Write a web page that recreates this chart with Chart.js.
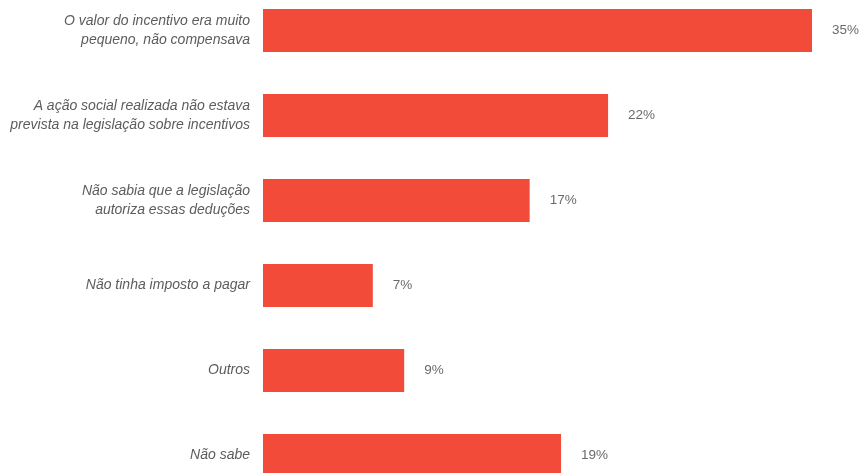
<!DOCTYPE html>
<html>
<head>
<meta charset="utf-8">
<script src="https://cdn.jsdelivr.net/npm/chart.js@4/dist/chart.umd.min.js"></script>
<style>
  html, body { margin: 0; padding: 0; background: #ffffff; overflow: hidden; width: 863px; height: 473px; }
  #c { position: absolute; left: 0; top: -12px; }
</style>
</head>
<body>
<canvas id="c" width="863" height="510"></canvas>
<script>
const categories = [
  ["O valor do incentivo era muito", "pequeno, não compensava"],
  ["A ação social realizada não estava", "prevista na legislação sobre incentivos"],
  ["Não sabia que a legislação", "autoriza essas deduções"],
  "Não tinha imposto a pagar",
  "Outros",
  "Não sabe"
];
const values = [35, 22, 17, 7, 9, 19];
const valueLabels = ["35%", "22%", "17%", "7%", "9%", "19%"];

const valueLabelPlugin = {
  id: 'valueLabels',
  afterDatasetsDraw(chart) {
    const ctx = chart.ctx;
    const xs = chart.scales.x, ys = chart.scales.y;
    ctx.save();
    ctx.font = '13.5px "Liberation Sans", Arial, sans-serif';
    ctx.fillStyle = '#6a6a6a';
    ctx.textAlign = 'left';
    ctx.textBaseline = 'middle';
    values.forEach((v, i) => {
      const x = xs.getPixelForValue(v) + 20;
      const y = ys.getPixelForValue(i);
      ctx.fillText(valueLabels[i], x, y);
    });
    ctx.restore();
  }
};

new Chart(document.getElementById('c'), {
  type: 'bar',
  data: {
    labels: categories,
    datasets: [{
      data: values,
      backgroundColor: '#f24b3a',
      borderWidth: 0,
      categoryPercentage: 1.0,
      barPercentage: 0.506
    }]
  },
  options: {
    indexAxis: 'y',
    responsive: false,
    animation: false,
    layout: { padding: { left: 0, right: 51, top: 0, bottom: 0 } },
    plugins: { legend: { display: false }, tooltip: { enabled: false } },
    scales: {
      x: { display: false, min: 0, max: 35 },
      y: {
        afterFit(scale) { scale.width = 263; scale.paddingTop = 0; scale.paddingBottom = 0; },
        grid: { display: false, drawTicks: false },
        border: { display: false },
        ticks: {
          padding: 13,
          color: '#5c5c5c',
          font: { family: '"Liberation Sans", Arial, sans-serif', size: 14, style: 'italic', lineHeight: 1.36 }
        }
      }
    }
  },
  plugins: [valueLabelPlugin]
});
</script>
</body>
</html>
